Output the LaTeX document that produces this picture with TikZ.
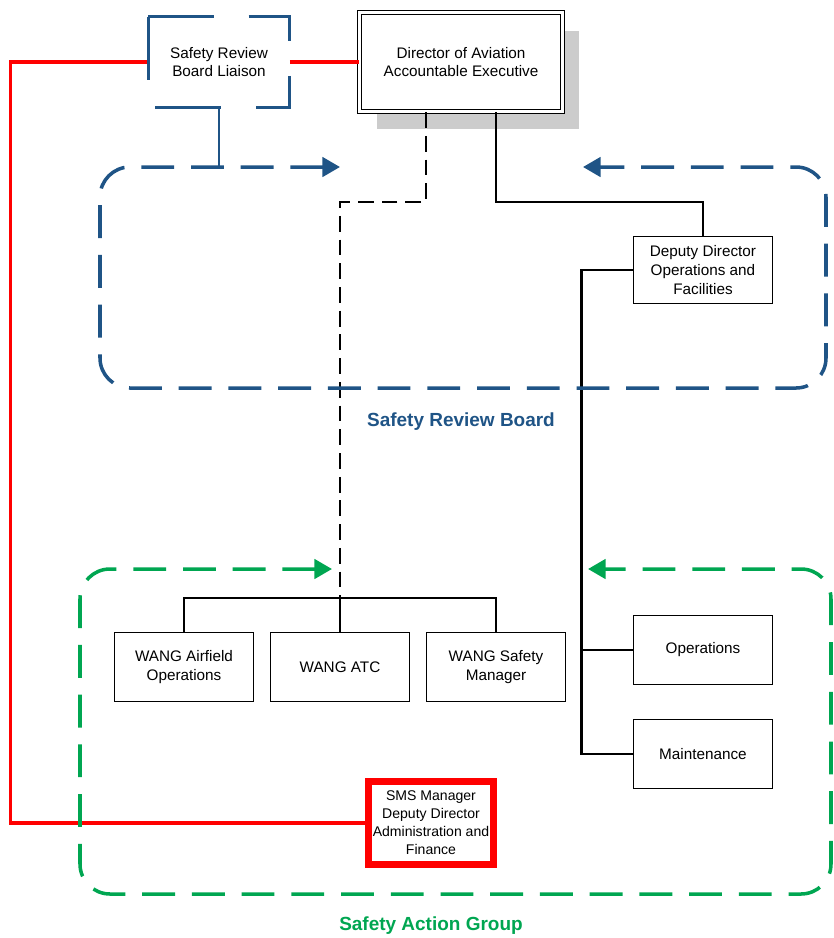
\documentclass[tikz,border=0pt]{standalone}
\usepackage{fontspec}
\setmainfont{Liberation Sans}
\usetikzlibrary{arrows.meta,shadows}
\definecolor{srbblue}{RGB}{31,84,134}
\definecolor{saggreen}{RGB}{0,166,81}
\tikzset{
  box/.style={draw, line width=1pt, align=center, fill=white, minimum width=2.78cm, minimum height=1.38cm, inner sep=1pt, font=\fontsize{8.7}{10.7}\selectfont},
  link/.style={draw, line width=1.5pt},
  dashlink/.style={draw, line width=1.3pt, dash pattern=on 9pt off 4.5pt},
  redlink/.style={draw, red, line width=1.8pt},
  frame/.style={draw, srbblue, line width=1.8pt, dash pattern=on 37.4pt off 19.8pt},
  group/.style={line width=2pt, dash pattern=on 18.7pt off 9.6pt, rounded corners=0.6cm, <->, >={Triangle[length=10pt,width=11pt]}},
  grouplabel/.style={font=\fontsize{10.8}{13}\selectfont\bfseries}
}
\begin{document}
\begin{tikzpicture}[x=0.02cm, y=-0.02cm]
\useasboundingbox (0,0) rectangle (834,938);
% top row
\node[box, double, double distance=1.6pt, line width=0.7pt, minimum width=4.06cm, minimum height=1.98cm, drop shadow={shadow xshift=0.34cm, shadow yshift=-0.36cm, fill=black!20, opacity=1}] (dir) at (461,62) {Director of Aviation\\Accountable Executive};
\node[box, draw=none, fill=none, minimum width=2.8cm, minimum height=1.78cm] (lia) at (219,62) {Safety Review\\Board Liaison};
\node[box, minimum height=1.34cm] (dep) at (703,270) {Deputy Director\\Operations and\\Facilities};
% lower boxes
\node[box] (afo) at (184,667) {WANG Airfield\\Operations};
\node[box] (atc) at (340,667) {WANG ATC};
\node[box] (wsm) at (496,667) {WANG Safety\\Manager};
\node[box] (ops) at (703,650) {Operations};
\node[box] (mnt) at (703,754) {Maintenance};
\node[box, draw=red, line width=4pt, minimum width=2.5cm, minimum height=1.66cm, inner sep=0pt, font=\fontsize{8}{10.2}\selectfont] (sms) at (431,823) {SMS Manager\\Deputy Director\\Administration and\\Finance};
\coordinate (bus) at (340,598);
\coordinate (srbtop) at (219,167);
% reporting lines
\path[link] ([xshift=0.7cm]dir.south) -- ++(0,90) -| (dep.north);
\path[dashlink] ([xshift=-0.7cm]dir.south) -- ++(0,90) -| (bus);
\path[link, line width=1pt] (afo.north) |- (bus) -| (wsm.north);
\path[link, line width=1pt] (bus) -- (atc.north);
\path[link] (dep.west) -- ++(-51,0) |- (mnt.west);
\path[link, line width=1pt] (ops.west) -- ++(-51,0);
\path[redlink] (lia.east) -- (dir.west);
\path[redlink] (lia.west) -- ++(-138,0) |- (sms.west);
\path[draw, srbblue, line width=1.5pt] (lia.south) -- (srbtop);
% groups
\draw[frame] (lia.north west) -- (lia.north east) -- (lia.south east) -- (lia.south west) -- cycle;
\draw[group, srbblue] (340,167) -- (100,167) -- (100,388) -- (826,388) -- (826,167) -- (583,167);
\draw[group, saggreen] (332,569) -- (80,569) -- (80,894) -- (831,894) -- (831,569) -- (588,569);
\node[grouplabel, text=srbblue] (srb) at (461,422) {Safety Review Board};
\node[grouplabel, text=saggreen] (sag) at (431,926) {Safety Action Group};
\end{tikzpicture}
\end{document}
